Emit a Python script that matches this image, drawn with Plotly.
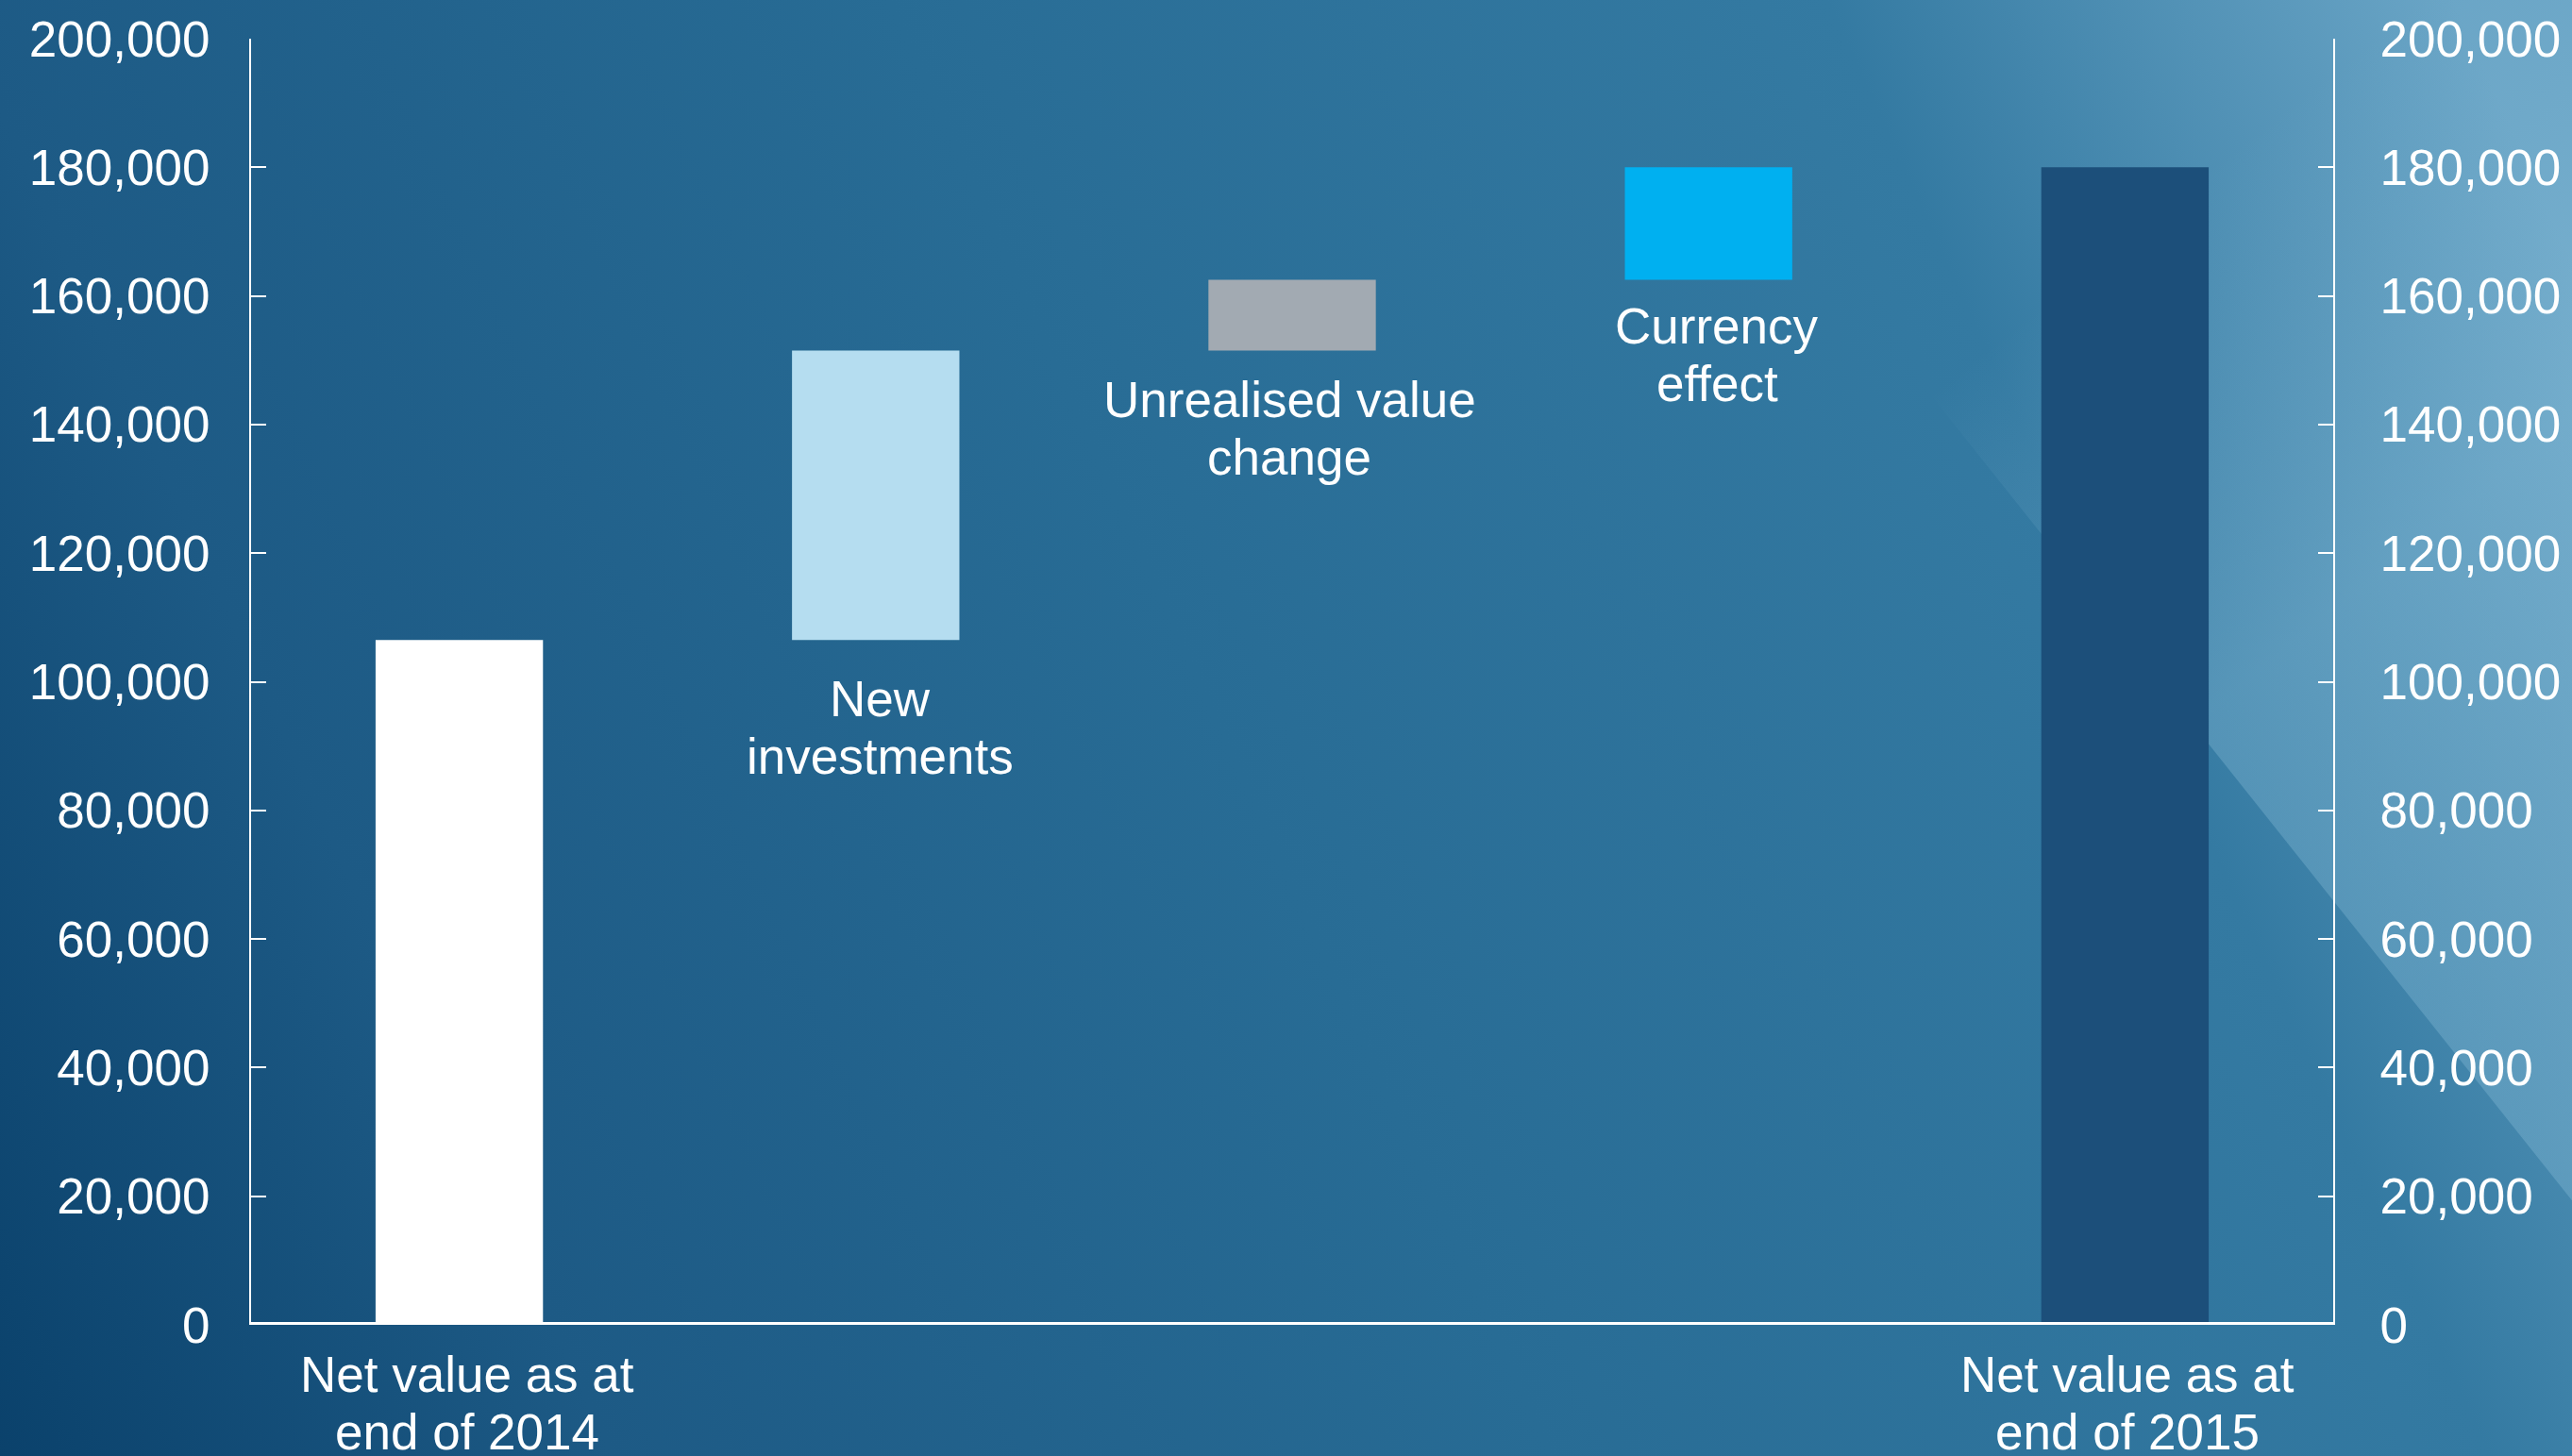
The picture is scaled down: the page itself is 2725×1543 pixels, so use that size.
import base64
import plotly.graph_objects as go

# ---------------- data ----------------
categories = [
    "Net value as at end of 2014",
    "New investments",
    "Unrealised value change",
    "Currency effect",
    "Net value as at end of 2015",
]
label_lines = [
    ["Net value as at", "end of 2014"],
    ["New", "investments"],
    ["Unrealised value", "change"],
    ["Currency", "effect"],
    ["Net value as at", "end of 2015"],
]
values = [106500, 45000, 11000, 17500, 180000]
measures = ["absolute", "relative", "relative", "relative", "total"]
y_ticks = [0, 20000, 40000, 60000, 80000, 100000, 120000, 140000, 160000, 180000, 200000]

# ---------------- style ----------------
bar_colors = ["#ffffff", "#b5ddf0", "#a2aab2", "#00b0f0", "#1c4f7a"]
label_offset = [52, 62, 52, 49, 52]   # px below bar bottom (first line centre)
label_xshift = [8, 5, -3, 9, 3]
line_gap = 61
FONT = "Liberation Sans, Arial, sans-serif"
FS = 53

W, H = 2725, 1543
L, R, T, B = 266, 252, 37, 139
pw, ph = W - L - R, H - T - B

# waterfall geometry from values
bases, heights = [], []
running = 0
for v, m in zip(values, measures):
    if m == "absolute":
        bases.append(0); heights.append(v); running = v
    elif m == "relative":
        bases.append(running); heights.append(v); running += v
    else:
        bases.append(0); heights.append(running)

# background (gradient + diagonal overlay) as inline SVG
svg = f'''<svg xmlns="http://www.w3.org/2000/svg" width="{W}" height="{H}" viewBox="0 0 {W} {H}">
<defs>
<linearGradient id="g" gradientUnits="userSpaceOnUse" x1="0" y1="{H}" x2="{W}" y2="300">
<stop offset="0" stop-color="#0a416b"/>
<stop offset="0.2" stop-color="#1d5a85"/>
<stop offset="0.5" stop-color="#286c95"/>
<stop offset="0.8" stop-color="#347aa2"/>
<stop offset="1" stop-color="#6aa5c6"/>
</linearGradient>
<linearGradient id="o" gradientUnits="userSpaceOnUse" x1="1698" y1="0" x2="2725" y2="1277">
<stop offset="0.33" stop-color="#96c8e1" stop-opacity="0"/>
<stop offset="0.6" stop-color="#96c8e1" stop-opacity="0.3"/>
<stop offset="1" stop-color="#96c8e1" stop-opacity="0.3"/>
</linearGradient>
</defs>
<rect x="-10" y="-10" width="{W + 20}" height="{H + 20}" fill="url(#g)"/>
<polygon points="1698,-10 {W + 10},-10 {W + 10},1289" fill="url(#o)"/>
</svg>'''
bg_uri = "data:image/svg+xml;base64," + base64.b64encode(svg.encode()).decode()

fig = go.Figure()
fig.add_trace(go.Bar(
    x=categories, y=heights, base=bases,
    marker=dict(color=bar_colors, line=dict(width=0)),
    width=0.402, hoverinfo="skip", showlegend=False,
))
fig.add_trace(go.Scatter(
    x=categories, y=heights, yaxis="y2", mode="markers",
    marker=dict(opacity=0), hoverinfo="skip", showlegend=False,
))

axis_common = dict(
    range=[0, 200000], tickvals=y_ticks, tickformat=",d",
    showline=True, linecolor="white", linewidth=2,
    ticks="inside", ticklen=16, tickwidth=2, tickcolor="white",
    tickfont=dict(family=FONT, size=FS, color="white"),
    showgrid=False, zeroline=False,
)

annotations = []
for i, lines in enumerate(label_lines):
    for j, line in enumerate(lines):
        annotations.append(dict(
            x=categories[i], y=bases[i], xref="x", yref="y",
            text=line, showarrow=False, yanchor="middle", xanchor="center",
            yshift=-(label_offset[i] + j * line_gap), xshift=label_xshift[i],
            font=dict(family=FONT, size=FS, color="white"),
        ))

fig.update_layout(
    width=W, height=H, autosize=False,
    margin=dict(l=L, r=R, t=T, b=B, pad=0),
    paper_bgcolor="#225f89", plot_bgcolor="rgba(0,0,0,0)",
    bargap=0.6,
    xaxis=dict(range=[-0.5, 4.5], showticklabels=False, ticks="", showline=False,
               showgrid=False, zeroline=False, type="category"),
    yaxis=dict(side="left", ticklabelstandoff=31, **axis_common),
    yaxis2=dict(side="right", overlaying="y", ticklabelstandoff=37, **axis_common),
    shapes=[dict(type="line", xref="paper", yref="y", x0=0, x1=1, y0=0, y1=0,
                 line=dict(color="white", width=6), layer="above")],
    annotations=annotations,
    images=[dict(source=bg_uri, xref="paper", yref="paper",
                 x=-(L + 10) / pw, y=1 + (T + 10) / ph,
                 sizex=(W + 20) / pw, sizey=(H + 20) / ph,
                 xanchor="left", yanchor="top", sizing="stretch", layer="below")],
)

fig.write_html("out.html")
